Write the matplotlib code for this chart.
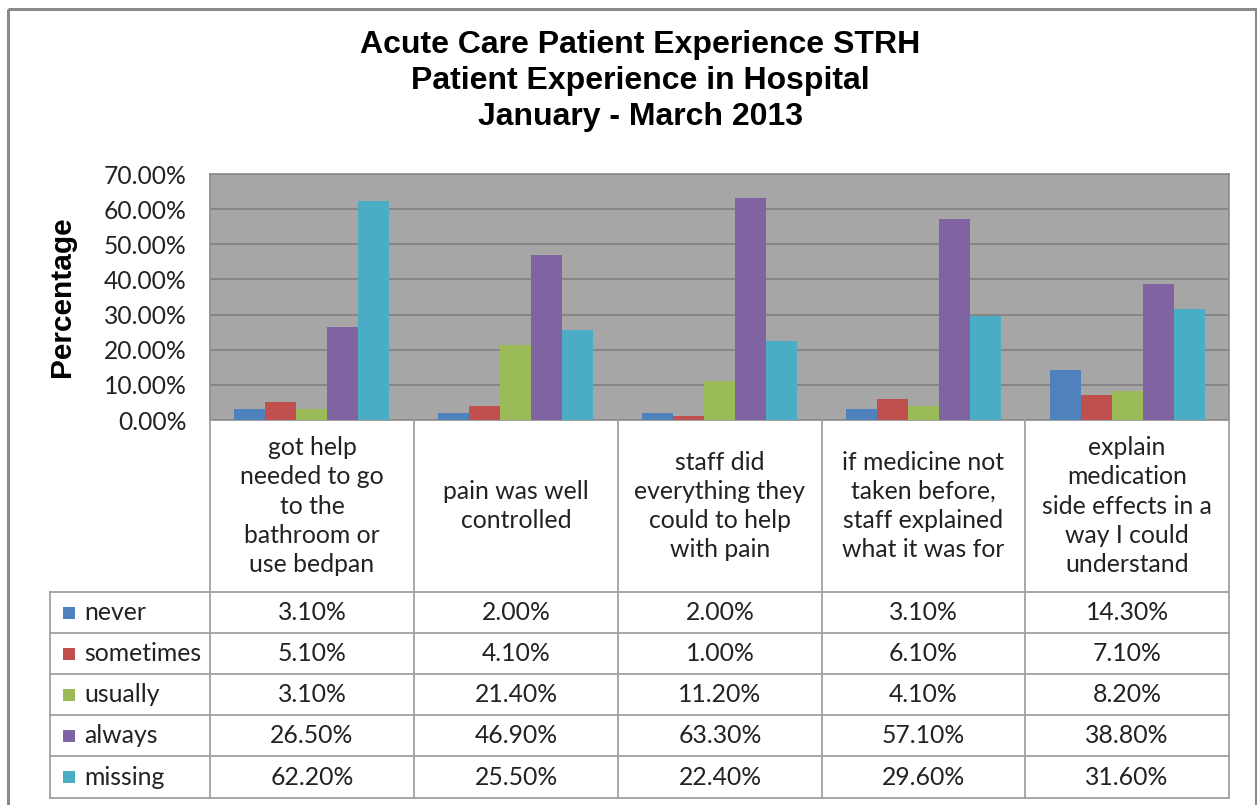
import matplotlib
matplotlib.use("Agg")
import matplotlib.pyplot as plt
from matplotlib.patches import Rectangle

# ---- data ----
categories = [
    "got help\nneeded to go\nto the\nbathroom or\nuse bedpan",
    "pain was well\ncontrolled",
    "staff did\neverything they\ncould to help\nwith pain",
    "if medicine not\ntaken before,\nstaff explained\nwhat it was for",
    "explain\nmedication\nside effects in a\nway I could\nunderstand",
]
series_names = ["never", "sometimes", "usually", "always", "missing"]
never = [3.1, 2.0, 2.0, 3.1, 14.3]
sometimes = [5.1, 4.1, 1.0, 6.1, 7.1]
usually = [3.1, 21.4, 11.2, 4.1, 8.2]
always = [26.5, 46.9, 63.3, 57.1, 38.8]
missing = [62.2, 25.5, 22.4, 29.6, 31.6]
yticks = [0, 10, 20, 30, 40, 50, 60, 70]
title = "Acute Care Patient Experience STRH\nPatient Experience in Hospital\nJanuary - March 2013"

series = [never, sometimes, usually, always, missing]
colors = ["#4F81BD", "#C0504D", "#9BBB59", "#8064A2", "#4BACC6"]

W, H = 1257, 805
fig = plt.figure(figsize=(W / 100, H / 100), dpi=100)
fig.patch.set_facecolor("white")

# pixel geometry
L, R, T, B = 210, 1229, 174, 420
ax = fig.add_axes([L / W, 1 - B / H, (R - L) / W, (B - T) / H])
ax.set_facecolor("#A6A6A6")
ax.set_xlim(-0.5, len(categories) - 0.5)
ax.set_ylim(0, 70)
bw = 0.152
for j, (vals, c) in enumerate(zip(series, colors)):
    xs = [i + (j - 2) * bw for i in range(len(vals))]
    ax.bar(xs, vals, width=bw, color=c, zorder=3, linewidth=0)
ax.set_yticks(yticks)
ax.set_yticklabels([f"{v:.2f}%" for v in yticks], fontsize=17.7, family="Lato", color="#222222")
ax.yaxis.grid(True, color="#808080", linewidth=1.2, zorder=1)
ax.set_xticks([])
ax.tick_params(axis="y", length=0, pad=17)
for s in ax.spines.values():
    s.set_color("#8C8C8C")
    s.set_linewidth(1.2)

fig.text(62 / W, 1 - 297 / H, "Percentage", rotation=90, ha="center", va="center",
         fontsize=21.5, fontweight="bold", family="Liberation Sans")

# overlay for table
ov = fig.add_axes([0, 0, 1, 1], zorder=5)
ov.set_xlim(0, W)
ov.set_ylim(H, 0)
ov.axis("off")
ov.patch.set_alpha(0)

# outer frame
ov.add_patch(Rectangle((8, 9), W - 9, H + 5, fill=False, edgecolor="#8A8A8A", linewidth=2.2))

fig.text(640 / W, 1 - 81 / H, title, ha="center", va="center", fontsize=23,
         fontweight="bold", family="Liberation Sans", linespacing=1.27)

col_x = [210, 414, 618, 822, 1025, 1229]
row_y = [592, 633, 674, 715, 756, 798]
lc = "#A0A0A0"
lw = 1.3
for x in col_x:
    ov.plot([x, x], [B, row_y[-1]], color=lc, lw=lw)
ov.plot([50, 50], [row_y[0], row_y[-1]], color=lc, lw=lw)
for y in row_y:
    ov.plot([50, 1229], [y, y], color=lc, lw=lw)

fs = 17.8
for i, cat in enumerate(categories):
    cx = (col_x[i] + col_x[i + 1]) / 2
    ov.text(cx, 506, cat, ha="center", va="center", fontsize=fs, family="Lato",
            linespacing=1.33, color="#222222")

for j, (name, vals, c) in enumerate(zip(series_names, series, colors)):
    cy = (row_y[j] + row_y[j + 1]) / 2
    ov.add_patch(Rectangle((63, cy - 6), 12, 12, facecolor=c, edgecolor="none"))
    ov.text(84, cy, name, ha="left", va="center", fontsize=fs, family="Lato", color="#222222")
    for i, v in enumerate(vals):
        cx = (col_x[i] + col_x[i + 1]) / 2
        ov.text(cx, cy, f"{v:.2f}%", ha="center", va="center", fontsize=fs, family="Lato",
                color="#222222")

fig.savefig("out.png", dpi=100)
